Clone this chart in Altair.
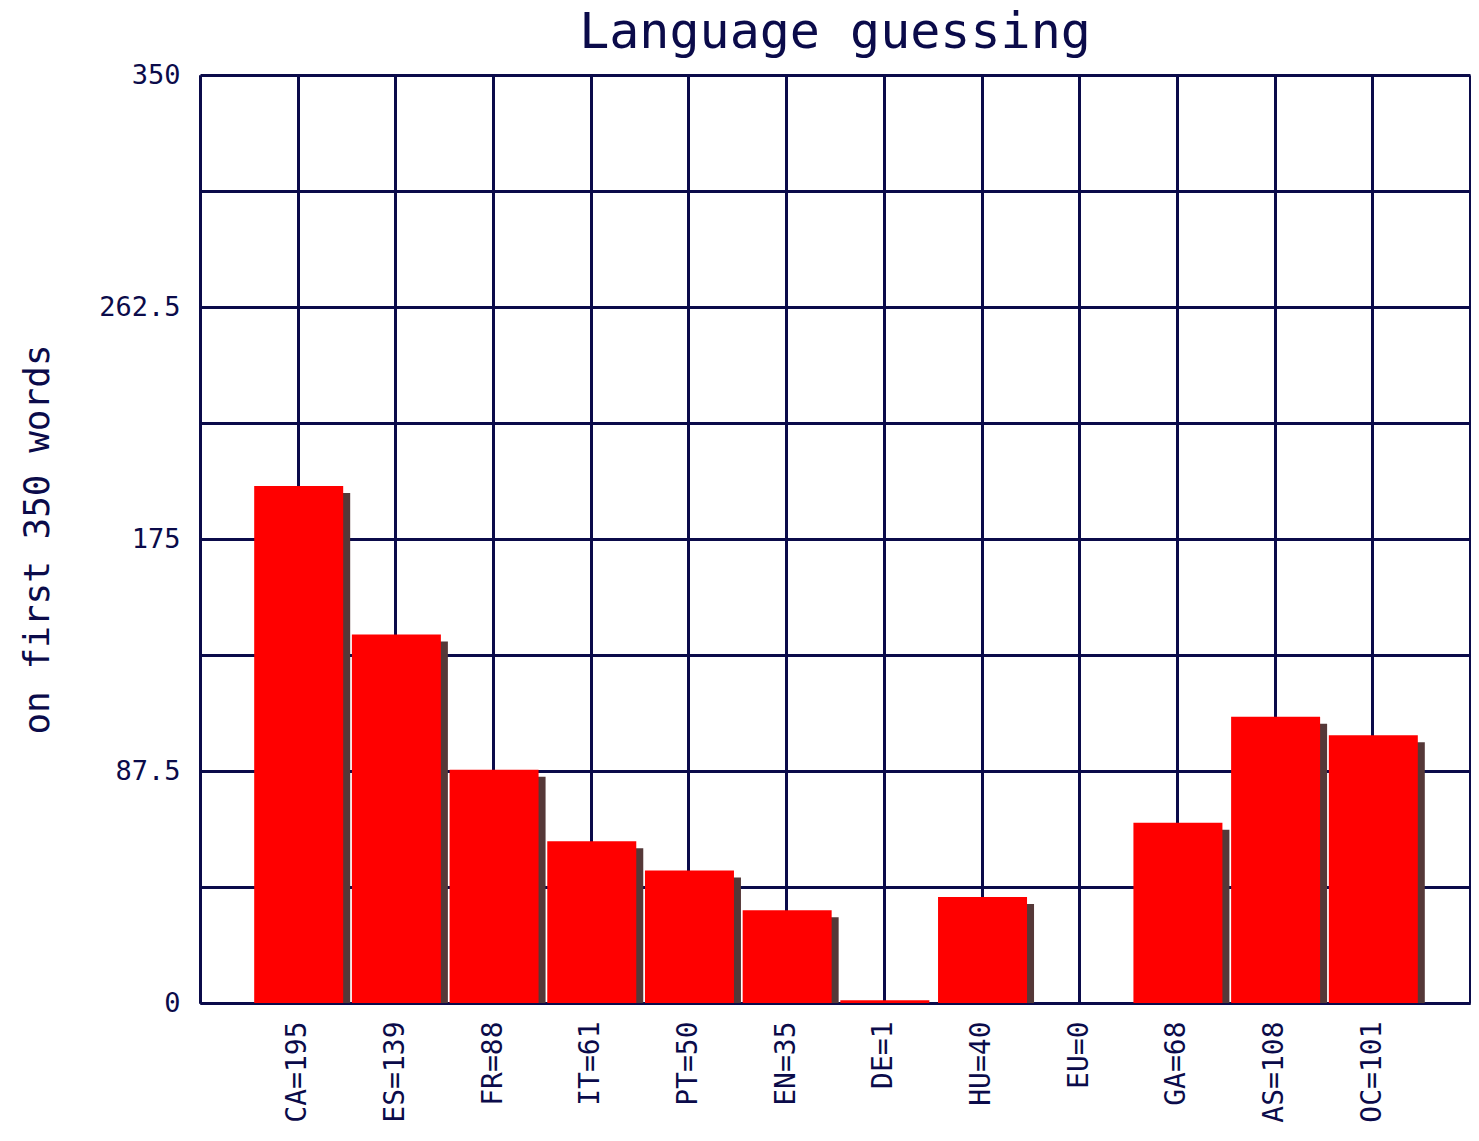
import json
import altair as alt
import pandas as pd

# ---- data ----
codes = ["CA", "ES", "FR", "IT", "PT", "EN", "DE", "HU", "EU", "GA", "AS", "OC"]
counts = [195, 139, 88, 61, 50, 35, 1, 40, 0, 68, 108, 101]
y_label_values = [0, 87.5, 175, 262.5, 350]
y_grid_values = [0, 43.75, 87.5, 131.25, 175, 218.75, 262.5, 306.25, 350]
title_text = "Language guessing"
y_title = "on first 350 words"

labels = [f"{c}={v}" for c, v in zip(codes, counts)]
df = pd.DataFrame({"code": codes, "count": counts, "pos": list(range(1, len(codes) + 1))})

NAVY = "#0b0b4a"
FONT = "DejaVu Sans Mono"

label_expr = (
    "datum.value >= 1 && datum.value <= %d ? %s[datum.value - 1] : ''"
    % (len(labels), json.dumps(labels))
)

x_enc = alt.X(
    "pos:Q",
    scale=alt.Scale(domain=[0, len(codes) + 1], nice=False, zero=False, padding=0),
    axis=alt.Axis(
        values=list(range(0, len(codes) + 2)),
        labelExpr=label_expr,
        labelAngle=270,
        labelAlign="right",
        labelBaseline="middle",
        labelPadding=18,
        labelFont=FONT,
        labelFontSize=28,
        labelColor=NAVY,
        ticks=False,
        grid=True,
        gridColor=NAVY,
        gridWidth=3,
        gridOpacity=1,
        domainColor=NAVY,
        domainWidth=3,
        title=None,
    ),
)

y_enc = alt.Y(
    "count:Q",
    scale=alt.Scale(domain=[0, 350], nice=False, padding=0),
    axis=alt.Axis(
        values=y_grid_values,
        labelExpr="indexof(%s, datum.value) >= 0 ? toString(datum.value) : ''" % json.dumps(y_label_values),
        labelPadding=20,
        labelFont=FONT,
        labelFontSize=27,
        labelColor=NAVY,
        ticks=False,
        grid=True,
        gridColor=NAVY,
        gridWidth=3,
        gridOpacity=1,
        domainColor=NAVY,
        domainWidth=3,
        title=y_title,
        titleFont=FONT,
        titleFontSize=36,
        titleFontWeight="normal",
        titleColor=NAVY,
        titleAngle=270,
        titleAlign="center",
        titleBaseline="alphabetic",
        titleX=-152,
        titleY=464,
    ),
)

base = alt.Chart(df)

shadow = base.mark_bar(size=89, color="#553838", xOffset=8, yOffset=7, clip=True).encode(
    x=x_enc, y=y_enc, y2=alt.datum(0)
)
bars = base.mark_bar(size=89, color="#ff0000", xOffset=1).encode(
    x=x_enc, y=y_enc, y2=alt.datum(0)
)

chart = (
    alt.layer(shadow, bars)
    .properties(
        width=1270,
        height=928,
        padding={"left": 192, "top": 67, "right": 1, "bottom": 122},
        autosize=alt.AutoSizeParams(type="none"),
        title=alt.TitleParams(
            text=title_text,
            font=FONT,
            fontSize=50,
            fontWeight="normal",
            color=NAVY,
            anchor="middle",
            offset=3,
        ),
    )
    .configure_view(stroke=None)
    .configure(background="white")
)

chart.save("out.html", embed_options={"renderer": "svg", "actions": False})
